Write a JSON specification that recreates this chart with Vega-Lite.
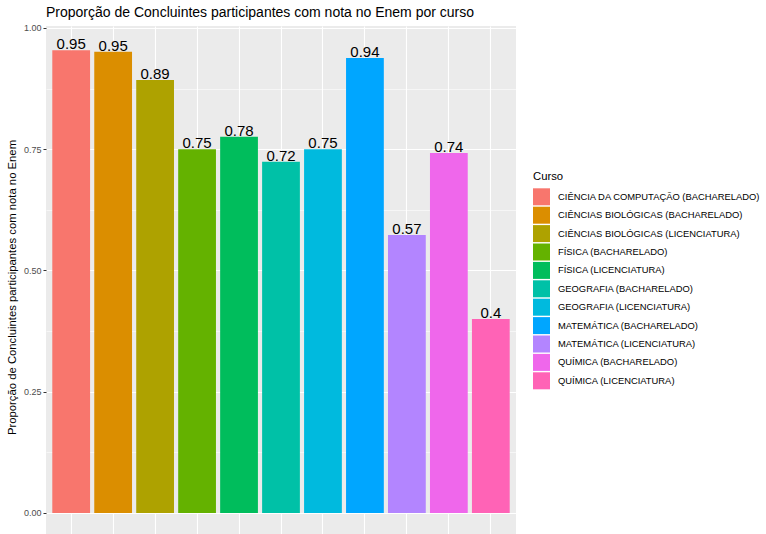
{
  "$schema": "https://vega.github.io/schema/vega-lite/v6.json",
  "autosize": {"type": "none"},
  "padding": {"left": 46, "top": 26, "right": 250, "bottom": 0},
  "width": 470,
  "height": 508,
  "title": {
    "text": "Proporção de Concluintes participantes com nota no Enem por curso",
    "anchor": "start",
    "frame": "group",
    "baseline": "alphabetic",
    "offset": 9,
    "dy": 16,
    "fontSize": 14,
    "fontWeight": "normal",
    "font": "Liberation Sans",
    "color": "#000000"
  },
  "data": {
    "values": [
      {"curso": "CIÊNCIA DA COMPUTAÇÃO (BACHARELADO)", "prop": 0.954},
      {"curso": "CIÊNCIAS BIOLÓGICAS (BACHARELADO)", "prop": 0.951},
      {"curso": "CIÊNCIAS BIOLÓGICAS (LICENCIATURA)", "prop": 0.893},
      {"curso": "FÍSICA (BACHARELADO)", "prop": 0.750},
      {"curso": "FÍSICA (LICENCIATURA)", "prop": 0.776},
      {"curso": "GEOGRAFIA (BACHARELADO)", "prop": 0.724},
      {"curso": "GEOGRAFIA (LICENCIATURA)", "prop": 0.750},
      {"curso": "MATEMÁTICA (BACHARELADO)", "prop": 0.938},
      {"curso": "MATEMÁTICA (LICENCIATURA)", "prop": 0.573},
      {"curso": "QUÍMICA (BACHARELADO)", "prop": 0.742},
      {"curso": "QUÍMICA (LICENCIATURA)", "prop": 0.400}
    ]
  },
  "encoding": {
    "x": {
      "field": "curso",
      "type": "nominal",
      "sort": null,
      "scale": {"paddingInner": 0.1, "paddingOuter": 0.15},
      "axis": {
        "title": null,
        "labels": false,
        "ticks": false,
        "domain": false,
        "grid": true,
        "gridColor": "#FFFFFF",
        "gridWidth": 1.1
      }
    },
    "y": {
      "field": "prop",
      "type": "quantitative",
      "scale": {"domain": [-0.0433, 1.0041], "nice": false, "zero": false},
      "axis": {
        "title": "Proporção de Concluintes participantes com nota no Enem",
        "titleFont": "Liberation Sans",
        "titleFontSize": 11.3,
        "titleFontWeight": "normal",
        "titleColor": "#000000",
        "titleAngle": -90,
        "titleBaseline": "alphabetic",
        "titleX": -30.5,
        "titleY": 261,
        "titleAlign": "center",
        "values": [0, 0.125, 0.25, 0.375, 0.5, 0.625, 0.75, 0.875, 1],
        "labelExpr": "(datum.value * 4) % 1 === 0 ? format(datum.value, '.2f') : ''",
        "labelFont": "Liberation Sans",
        "labelFontSize": 9,
        "labelColor": "#4D4D4D",
        "labelPadding": 2,
        "tickColor": "#333333",
        "tickSize": 3,
        "tickOpacity": {"condition": {"test": "(datum.value * 4) % 1 !== 0", "value": 0}, "value": 1},
        "domain": false,
        "grid": true,
        "gridColor": "#FFFFFF",
        "gridWidth": {"condition": {"test": "(datum.value * 4) % 1 !== 0", "value": 0.55}, "value": 1.1}
      }
    }
  },
  "layer": [
    {
      "mark": {"type": "bar"},
      "encoding": {
        "y2": {"datum": 0},
        "color": {
          "field": "curso",
          "type": "nominal",
          "sort": null,
          "scale": {
            "range": ["#F8766D", "#DB8E00", "#AEA200", "#64B200", "#00BD5C", "#00C1A7", "#00BADE", "#00A6FF", "#B385FF", "#EF67EB", "#FF63B6"]
          },
          "legend": {
            "title": "Curso",
            "orient": "none",
            "legendX": 487,
            "legendY": 145,
            "titleFont": "Liberation Sans",
            "titleFontSize": 11.3,
            "titleFontWeight": "normal",
            "titleColor": "#000000",
            "titlePadding": 6,
            "labelFont": "Liberation Sans",
            "labelFontSize": 9.4,
            "labelColor": "#000000",
            "labelOffset": 8,
            "symbolType": "square",
            "symbolSize": 289,
            "symbolStrokeWidth": 0,
            "symbolOpacity": 1,
            "rowPadding": 1.4,
            "labelLimit": 400
          }
        }
      }
    },
    {
      "mark": {"type": "text", "baseline": "alphabetic", "dy": -1, "fontSize": 15, "font": "Liberation Sans", "color": "#000000"},
      "encoding": {
        "text": {"field": "prop", "type": "quantitative", "format": ".2~f"}
      }
    }
  ],
  "config": {
    "view": {"fill": "#EBEBEB", "stroke": null},
    "background": "#FFFFFF"
  }
}
